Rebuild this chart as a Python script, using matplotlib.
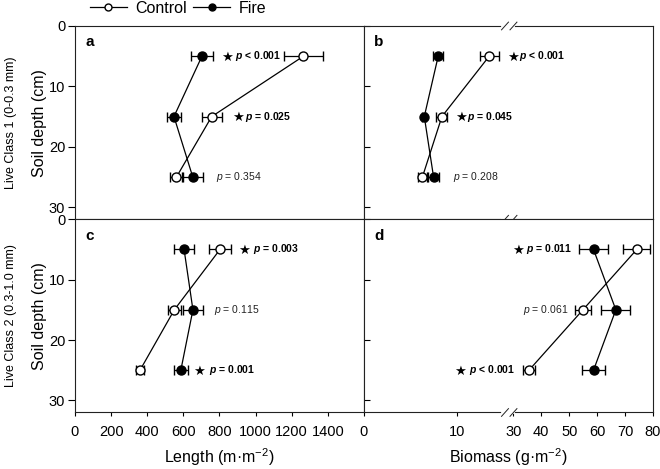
import numpy as np
import matplotlib
matplotlib.use('agg')
import matplotlib.pyplot as plt
from matplotlib.lines import Line2D
from matplotlib.transforms import blended_transform_factory

plt.rcParams['font.family'] = ['Liberation Sans', 'DejaVu Sans']
plt.rcParams['mathtext.fontset'] = 'custom'
plt.rcParams['mathtext.rm'] = 'Liberation Sans'
plt.rcParams['mathtext.it'] = 'Liberation Sans:italic'
plt.rcParams['mathtext.bf'] = 'Liberation Sans:bold'
plt.rcParams['mathtext.bfit'] = 'Liberation Sans:bold:italic'

depth = [5, 15, 25]

# panel a: length, live class 1
a_ctrl = [1265, 757, 562]
a_ctrl_err = [108, 55, 35]
a_fire = [703, 548, 652]
a_fire_err = [63, 40, 58]

# panel b: biomass, live class 1
b_ctrl = [13.5, 8.4, 6.3]
b_ctrl_err = [1.0, 0.6, 0.5]
b_fire = [8.0, 6.5, 7.5]
b_fire_err = [0.55, 0.2, 0.6]

# panel c: length, live class 2
c_ctrl = [803, 550, 360]
c_ctrl_err = [60, 35, 22]
c_fire = [604, 653, 586]
c_fire_err = [55, 55, 40]

# panel d: biomass, live class 2
d_ctrl = [74.2, 54.9, 35.6]
d_ctrl_err = [4.9, 3.0, 2.0]
d_fire = [58.7, 66.7, 58.7]
d_fire_err = [5.2, 5.2, 4.0]

# p-value notes: (text, significant, star x, text x) x in axes fraction
a_notes = [('< 0.001', True, 0.525, 0.553), ('= 0.025', True, 0.565, 0.590), ('= 0.354', False, None, 0.488)]
b_notes = [('< 0.001', True, 0.517, 0.536), ('= 0.045', True, 0.335, 0.355), ('= 0.208', False, None, 0.309)]
c_notes = [('= 0.003', True, 0.586, 0.616), ('= 0.115', False, None, 0.481), ('= 0.001', True, 0.429, 0.463)]
d_notes = [('= 0.011', True, 0.532, 0.560), ('= 0.061', False, None, 0.549), ('< 0.001', True, 0.332, 0.365)]

length_ticks = [0, 200, 400, 600, 800, 1000, 1200, 1400]
biomass_ticks = [0, 10, 30, 40, 50, 60, 70, 80]

# broken biomass axis: 0-15.2 then 28.8-80
brk_val = [0, 15.2, 28.8, 80]
brk_pos = [0, 141, 146, 289]


def fwd(x):
    return np.interp(x, brk_val, brk_pos)


def inv(x):
    return np.interp(x, brk_pos, brk_val)


fig, axes = plt.subplots(2, 2, figsize=(6.6, 4.69), dpi=100)
plt.subplots_adjust(left=0.1136, right=0.9894, top=0.9446, bottom=0.1205,
                    hspace=0, wspace=0)

panels = [
    (axes[0, 0], a_ctrl, a_ctrl_err, a_fire, a_fire_err, a_notes, 'a'),
    (axes[0, 1], b_ctrl, b_ctrl_err, b_fire, b_fire_err, b_notes, 'b'),
    (axes[1, 0], c_ctrl, c_ctrl_err, c_fire, c_fire_err, c_notes, 'c'),
    (axes[1, 1], d_ctrl, d_ctrl_err, d_fire, d_fire_err, d_notes, 'd'),
]

for ax, ctrl, ctrl_err, fire, fire_err, notes, letter in panels:
    right = ax in (axes[0, 1], axes[1, 1])
    if right:
        ax.set_xscale('function', functions=(fwd, inv))
        ax.set_xlim(0, 80)
        ax.set_xticks(biomass_ticks)
    else:
        ax.set_xlim(0, 1600)
        ax.set_xticks(length_ticks)
    ax.errorbar(fire, depth, xerr=fire_err, color='black', marker='o', ms=6.5,
                mfc='black', mec='black', lw=0.9, elinewidth=0.9, capsize=3.5, zorder=3)
    ax.errorbar(ctrl, depth, xerr=ctrl_err, color='black', marker='o', ms=6.5,
                mfc='white', mec='black', lw=0.9, elinewidth=0.9, capsize=3.5, zorder=4)
    ax.set_ylim(32, 0)
    ax.set_yticks([0, 10, 20, 30])
    for s in ax.spines.values():
        s.set_linewidth(0.8)
        s.set_color('#222222')

    tr = blended_transform_factory(ax.transAxes, ax.transData)
    for (txt, sig, sx, tx), y in zip(notes, depth):
        if sig:
            ax.text(sx, y + 0.2, '\u2605', transform=tr, family='DejaVu Sans',
                    fontsize=9.5, ha='center', va='center')
            ax.text(tx, y, r'$\mathbfit{p}$ ' + txt, transform=tr, fontsize=7.5,
                    fontweight='bold', ha='left', va='center')
        else:
            ax.text(tx, y, r'$\mathit{p}$ ' + txt, transform=tr, fontsize=7.5,
                    ha='left', va='center', color='#222222')
    ax.text(0.052, 0.915, letter, transform=ax.transAxes, fontsize=11,
            fontweight='bold', ha='center', va='center')

    if right:
        ax.tick_params(axis='y', direction='in', length=4, labelleft=False)
        # break marks on the biomass axis
        x0, x1 = 141 / 289, 146 / 289
        spines_y = [0, 1] if ax is axes[0, 1] else [0]
        for yy in spines_y:
            ax.plot([x0 - 0.01, x1 + 0.01], [yy, yy], transform=ax.transAxes,
                    color='white', lw=2, clip_on=False, zorder=5)
            for xx in (x0, x1 + 0.012):
                ax.plot([xx - 0.012, xx + 0.012], [yy - 0.02, yy + 0.02],
                        transform=ax.transAxes, color='#222222', lw=0.7,
                        clip_on=False, zorder=6)
    else:
        ax.tick_params(axis='y', direction='out', length=5, labelsize=10.5, pad=2)
        ax.set_ylabel('Soil depth (cm)', fontsize=11.5, labelpad=1)

    if ax in (axes[0, 0], axes[0, 1]):
        ax.tick_params(axis='x', bottom=False, labelbottom=False)
    else:
        ax.tick_params(axis='x', direction='out', length=3, labelsize=10.5, pad=6)

axes[1, 0].set_xlabel('Length (m\u00b7m$^{-2}$)', fontsize=11.5, labelpad=5)
axes[1, 1].set_xlabel('Biomass (g\u00b7m$^{-2}$)', fontsize=11.5, labelpad=5)

fig.text(0.016, 0.739, 'Live Class 1 (0-0.3 mm)', rotation=90, fontsize=9,
         ha='center', va='center')
fig.text(0.016, 0.327, 'Live Class 2 (0.3-1.0 mm)', rotation=90, fontsize=9,
         ha='center', va='center')

handles = [
    Line2D([], [], color='black', lw=0.9, marker='o', ms=5, mfc='white', mec='black'),
    Line2D([], [], color='black', lw=0.9, marker='o', ms=5, mfc='black', mec='black'),
]
fig.legend(handles, ['Control', 'Fire'], loc='center', bbox_to_anchor=(0.27, 0.982),
           ncol=2, frameon=False, fontsize=11.5, handlelength=2.3, columnspacing=0.4,
           handletextpad=0.55, borderaxespad=0)

fig.savefig('out.png', dpi=100)
